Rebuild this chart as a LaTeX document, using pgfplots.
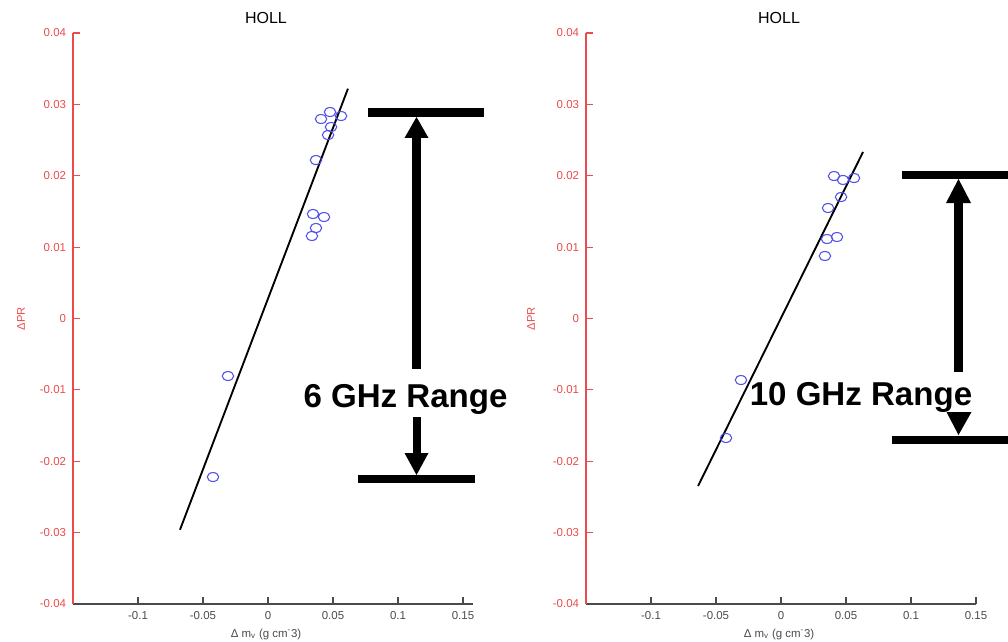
\documentclass[border=0pt]{standalone}
\usepackage{pgfplots}
\pgfplotsset{compat=1.18}
\usepackage{fontspec}
\setmainfont{Liberation Sans}

\definecolor{axred}{RGB}{235,75,75}
\definecolor{axgray}{RGB}{75,75,75}
\definecolor{mblue}{RGB}{80,80,235}

\pgfplotsset{
    holl/.style={
        scale only axis,
        height=428.25pt,
        ymin=-0.04, ymax=0.04,
        axis x line=bottom,
        axis y line=left,
        axis line style={-, line width=0.8pt},
        x axis line style={axgray},
        y axis line style={axred},
        tick align=inside,
        major tick length=5pt,
        scaled x ticks=false,
        scaled y ticks=false,
        xtick={-0.1,-0.05,0,0.05,0.1,0.15},
        xticklabels={-0.1,-0.05,0,0.05,0.1,0.15},
        ytick={-0.04,-0.03,-0.02,-0.01,0,0.01,0.02,0.03,0.04},
        yticklabels={-0.04,-0.03,-0.02,-0.01,0,0.01,0.02,0.03,0.04},
        x tick style={axgray, line width=0.8pt},
        y tick style={axred, line width=0.8pt},
        xticklabel style={font=\fontsize{8.6}{10}\selectfont, text=axgray, anchor=center, yshift=-9pt},
        yticklabel style={font=\fontsize{8.6}{10}\selectfont, text=axred, xshift=-1.7pt},
        title={HOLL},
        every axis title shift=0pt,
        title style={font=\fontsize{12}{14}\selectfont, anchor=center},
        xlabel={Δ m\textsubscript{v} (g cm\textsuperscript{-}3)},
        xlabel style={font=\fontsize{8.6}{10}\selectfont, text=axgray, anchor=center, yshift=-23pt},
        ylabel={ΔPR},
        ylabel style={font=\fontsize{8.4}{10}\selectfont, text=axred, rotate=0, anchor=center},
        clip=false,
    },
    pts/.style={only marks, mark=o, mblue, mark size=4.3pt, mark options={yscale=0.78, line width=0.8pt}},
    fit/.style={black, line width=1.4pt, no marks},
}

\begin{document}
\begin{tikzpicture}
\useasboundingbox (0,0) rectangle (756pt,-481.5pt);

% left panel: 6 GHz
\begin{axis}[holl,
    at={(54.75pt,-453pt)}, anchor=south west,
    width=300pt,
    xmin=-0.15, xmax=0.1577,
    title style={at={(axis description cs:0.4825,1.0263)}},
    xlabel style={at={(axis description cs:0.4825,0)}},
    ylabel style={at={(axis description cs:-0.13,0.5)}},
]
\addplot[pts] coordinates {
    (0.0408,0.02795) (0.0477,0.02893) (0.0562,0.02837) (0.0485,0.02683)
    (0.0462,0.02571) (0.0369,0.02220) (0.0346,0.01464) (0.0431,0.01422)
    (0.0369,0.01268) (0.0338,0.01156) (-0.0308,-0.00806) (-0.0423,-0.02221)
};
\addplot[fit] coordinates {(-0.0677,-0.0296) (0.0615,0.0322)};
\end{axis}

% right panel: 10 GHz
\begin{axis}[holl,
    at={(439.5pt,-453pt)}, anchor=south west,
    width=292.5pt,
    xmin=-0.15, xmax=0.15,
    title style={at={(axis description cs:0.495,1.0263)}},
    xlabel style={at={(axis description cs:0.495,0)}},
    ylabel style={at={(axis description cs:-0.141,0.5)}},
]
\addplot[pts] coordinates {
    (0.0408,0.01996) (0.0477,0.01941) (0.0562,0.01968) (0.0462,0.01702)
    (0.0362,0.01548) (0.0354,0.01114) (0.0431,0.01142) (0.0338,0.00876)
    (-0.0308,-0.00862) (-0.0423,-0.01674)
};
\addplot[fit] coordinates {(-0.0638,-0.02347) (0.0631,0.02333)};
\end{axis}

% range annotations (pixel units)
\begin{scope}[x=0.75pt, y=-0.75pt]
\fill (368,108) rectangle (484,117);
\fill (412,138) rectangle (421,369);
\fill (404.5,138) -- (416.5,117) -- (428.5,138) -- cycle;
\node[font=\bfseries\fontsize{24.8}{30}\selectfont, anchor=base, inner sep=0pt] at (405.5,407) {6 GHz Range};
\fill (412.5,417) rectangle (420.5,453);
\fill (404.5,453) -- (416.5,475) -- (428.5,453) -- cycle;
\fill (358,475) rectangle (475,483);

\fill (902,171) rectangle (1008,179);
\fill (954,203) rectangle (963,372);
\fill (946,203) -- (958.5,179) -- (971,203) -- cycle;
\fill (946.5,412) -- (958.5,435) -- (971.5,412) -- cycle;
\fill (892,436) rectangle (1008,444);
\node[font=\bfseries\fontsize{24.8}{30}\selectfont, anchor=base, inner sep=0pt] at (861,405) {10 GHz Range};
\end{scope}
\end{tikzpicture}
\end{document}
